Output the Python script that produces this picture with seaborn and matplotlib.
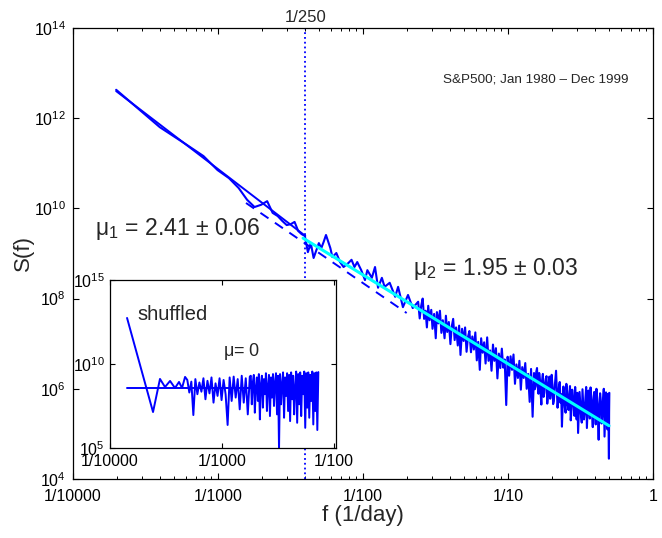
import seaborn as sns
import matplotlib.pyplot as plt
import numpy as np
from matplotlib.ticker import LogLocator, NullFormatter, NullLocator

# S&P500 daily closes, Jan 1980 - Dec 1999 (trading days in the record)
N_DAYS = 5040

# Power spectrum: harmonic k (f = k / N_DAYS) and log10 S(f)
k_main = [1, 2, 3, 4, 5, 6, 7, 8, 9, 10, 11, 12, 13, 14, 15, 16, 17, 18, 19, 20,
          21, 22, 23, 25, 26, 27, 28, 30, 31, 33, 35, 37, 40, 42, 44, 46, 49, 52,
          54, 58, 61, 64, 68, 71, 77, 84, 88, 95, 103, 111,
          121, 124, 127, 130, 133, 136, 139, 142, 145, 149, 152, 156, 160, 163,
          167, 171, 175, 179, 184, 188, 192, 197, 202, 206, 211, 216, 221, 227,
          232, 237, 243, 249, 255, 261, 267, 273, 280, 286, 293, 300, 307, 314,
          322, 329, 337, 345, 353, 362, 370, 379, 388, 397, 406, 416, 426, 436,
          446, 457, 467, 478, 490, 501, 513, 525, 537, 550, 563, 576, 590, 604,
          618, 632, 647, 663, 678, 694, 711, 727, 745,
          762, 771, 780, 789, 799, 808, 818, 827, 837, 846, 856, 866, 877, 887,
          897, 907, 918, 929, 940, 951, 962, 973, 985, 996, 1008, 1020, 1032,
          1044, 1057, 1069, 1081, 1094, 1107, 1120, 1133, 1146, 1160, 1173, 1187,
          1201, 1215, 1229, 1244, 1258, 1273, 1288, 1303, 1318, 1334, 1349, 1365,
          1381, 1397, 1413, 1430, 1447, 1464, 1481, 1499, 1516, 1534, 1552, 1570,
          1588, 1607, 1626, 1645, 1664, 1684, 1704, 1724, 1744, 1764, 1785, 1806,
          1827, 1848, 1870, 1892, 1914, 1937, 1959, 1982, 2005, 2029, 2053, 2077,
          2101, 2126, 2151, 2176, 2201, 2227, 2253, 2280, 2307, 2334, 2361, 2389,
          2417, 2445, 2474, 2503, 2511, 2520]
logS_main = [12.63, 11.80, 11.43, 11.16, 10.85, 10.67, 10.45, 10.19, 10.03, 10.08,
             10.16, 9.90, 9.83, 9.72, 9.63, 9.65, 9.70, 9.50, 9.43, 9.39,
             9.03, 9.23, 8.90, 9.23, 9.12, 9.26, 9.41, 9.12, 8.92, 9.01, 8.81, 8.70,
             8.79, 8.86, 8.70, 8.81, 8.63, 8.41, 8.63, 8.46, 8.70, 8.24, 8.46, 8.26,
             8.35, 8.04, 8.26, 7.81, 8.08, 7.79,
             7.93, 7.56, 7.84, 8.00, 7.55, 7.73, 7.36, 7.84, 7.52, 7.75,
             7.33, 7.66, 7.12, 7.70, 7.45, 7.73, 7.24, 7.52, 7.12, 7.62,
             7.26, 7.48, 6.99, 7.37, 7.55, 7.08, 7.36, 6.96, 7.40, 6.75,
             7.33, 7.06, 7.36, 6.82, 7.15, 7.28, 6.81, 7.16, 6.87, 7.25,
             6.63, 7.04, 6.42, 7.12, 6.80, 7.03, 6.56, 7.14, 6.62, 6.85,
             6.40, 6.98, 6.62, 6.90, 6.23, 6.78, 6.46, 6.89, 6.47, 6.65,
             5.64, 6.71, 6.29, 6.72, 6.42, 6.76, 6.11, 6.54, 6.24, 6.62,
             5.98, 6.48, 6.24, 6.57, 6.00, 6.33, 5.71, 6.44, 5.38,
             6.35, 5.99, 6.06, 6.37, 6.46, 6.05, 5.89, 6.35, 6.20, 5.91, 5.65, 6.19,
             6.33, 5.82, 5.91, 6.10, 6.22, 6.28, 5.67, 5.86, 6.12, 6.27, 5.78, 5.92,
             6.31, 6.10, 5.66, 5.73, 6.02, 6.21, 6.40, 5.99, 5.58, 5.77, 6.06, 6.15,
             5.69, 5.88, 5.16, 5.66, 6.05, 5.84, 5.58, 5.47, 6.11, 5.95, 5.64, 5.53,
             5.87, 6.06, 5.30, 5.54, 5.98, 5.82, 5.61, 5.40, 6.04, 5.73, 5.32, 5.91,
             5.02, 5.49, 5.93, 5.67, 5.41, 5.25, 5.99, 5.68, 5.32, 5.46, 5.80, 6.04,
             5.13, 5.52, 5.96, 5.70, 5.34, 6.03, 5.82, 5.46, 5.15, 5.74, 5.93, 5.52,
             5.21, 6.00, 5.79, 5.43, 4.87, 5.61, 5.90, 5.74, 5.23, 5.42, 5.76, 6.00,
             4.94, 5.43, 5.92, 5.61, 5.10, 5.89, 4.45, 5.47, 5.91]

# Power-law fits (end points): low-frequency fit, its dashed extension, high-frequency fit
fit1_f = [1 / 5040, 1 / 250]
fit1_logS = [12.60, 9.39]
fit1_ext_f = [1 / 641, 1 / 50]
fit1_ext_logS = [10.12, 7.68]
fit2_f = [1 / 259, 1 / 2.01]
fit2_logS = [9.34, 5.18]
f_cross = 1 / 250

# Inset: shuffled series
shuf_logf = [-3.848, -3.616, -3.554, -3.509, -3.464, -3.420, -3.384, -3.357, -3.330,
             -3.310, -3.292, -3.274, -3.256, -3.238, -3.220, -3.202, -3.184, -3.166,
             -3.148, -3.130, -3.112, -3.094, -3.076, -3.058, -3.040, -3.022, -3.004,
             -2.986, -2.968, -2.950, -2.932, -2.914, -2.896, -2.878, -2.860, -2.842,
             -2.824, -2.806, -2.788, -2.770, -2.752,
             -2.743, -2.734, -2.725, -2.716, -2.707, -2.698, -2.689, -2.680, -2.671,
             -2.662, -2.653, -2.644, -2.635, -2.626, -2.617, -2.608, -2.599, -2.590,
             -2.581, -2.572, -2.563, -2.554, -2.545, -2.536, -2.527, -2.518, -2.509,
             -2.500, -2.491, -2.482, -2.473, -2.464, -2.455, -2.446, -2.437, -2.428,
             -2.419, -2.410, -2.401, -2.392, -2.383, -2.374, -2.365, -2.356, -2.347,
             -2.338, -2.329, -2.320, -2.311, -2.302, -2.293, -2.284, -2.275, -2.266,
             -2.257, -2.248, -2.239, -2.230, -2.221, -2.212, -2.203, -2.194, -2.185,
             -2.176, -2.167, -2.158, -2.149, -2.140]
shuf_logS = [12.74, 7.14, 9.11, 8.63, 8.99, 8.57, 8.93, 8.57, 9.23,
             9.05, 8.30, 8.95, 6.96, 9.10, 8.20, 8.90, 8.35, 9.15, 7.90, 9.00, 8.25,
             9.20, 7.70, 8.85, 8.10, 9.15, 7.85, 9.05, 8.20, 6.37, 9.20, 7.80, 9.25,
             8.00, 9.10, 7.30, 9.30, 7.70, 9.15, 7.00, 9.25,
             9.30, 7.60, 8.90, 9.35, 7.10, 8.60, 9.20, 7.80, 9.40, 6.70,
             8.80, 9.30, 7.40, 9.10, 8.20, 9.45, 7.20, 8.70, 9.35, 6.90,
             9.20, 8.00, 9.40, 7.50, 8.90, 9.45, 7.00, 9.30, 4.90, 9.40,
             7.60, 8.80, 9.50, 6.80, 9.20, 8.10, 9.45, 7.20, 9.35, 6.60,
             9.50, 7.90, 9.30, 7.00, 8.60, 9.55, 6.50, 9.40, 7.60, 9.50,
             6.90, 9.30, 8.20, 9.55, 6.20, 9.45, 7.40, 9.50, 6.80, 9.35,
             7.80, 9.55, 6.40, 9.45, 7.20, 9.50, 6.07, 9.52]
flat_logf = [-3.848, -2.140]
flat_logS = [8.55, 8.55]

sns.set_theme(style="ticks")
plt.rcParams['font.family'] = ['Liberation Sans', 'DejaVu Sans']
plt.rcParams['mathtext.fontset'] = 'custom'
plt.rcParams['mathtext.rm'] = 'Liberation Sans'
plt.rcParams['mathtext.it'] = 'Liberation Sans:italic'
plt.rcParams['mathtext.default'] = 'regular'
# MATLAB-like box: inward ticks on all four sides
plt.rcParams.update({
    'xtick.direction': 'in', 'ytick.direction': 'in',
    'xtick.top': True, 'xtick.bottom': True, 'ytick.left': True, 'ytick.right': True,
    'xtick.major.size': 4, 'ytick.major.size': 4,
    'xtick.minor.size': 2.5, 'ytick.minor.size': 2.5,
    'xtick.major.width': 0.8, 'ytick.major.width': 0.8,
    'xtick.minor.width': 0.7, 'ytick.minor.width': 0.7,
    'xtick.color': 'black', 'ytick.color': 'black',
    'axes.edgecolor': 'black', 'axes.linewidth': 0.9,
})

fig = plt.figure(figsize=(6.62, 5.38), dpi=100)
ax = fig.add_axes([0.1103, 0.1097, 0.8761, 0.8383])
ax.set_xscale('log')
ax.set_yscale('log')

ax.axvline(f_cross, color='blue', ls=':', lw=1.3)
sns.lineplot(x=np.array(fit1_ext_f), y=10.0 ** np.array(fit1_ext_logS), ax=ax,
             color='blue', lw=1.4)
ax.lines[-1].set_dashes([5, 4])
sns.lineplot(x=np.array(k_main) / N_DAYS, y=10.0 ** np.array(logS_main), ax=ax,
             color='blue', lw=1.5, sort=False, estimator=None)
sns.lineplot(x=np.array(fit1_f), y=10.0 ** np.array(fit1_logS), ax=ax,
             color='blue', lw=1.4)
sns.lineplot(x=np.array(fit2_f), y=10.0 ** np.array(fit2_logS), ax=ax,
             color='#00ffff', lw=2.2)

ax.set_xlim(1e-4, 1)
ax.set_ylim(1e4, 1e14)
ax.set_xticks([1e-4, 1e-3, 1e-2, 1e-1, 1], ['1/10000', '1/1000', '1/100', '1/10', '1'])
ax.xaxis.set_minor_locator(LogLocator(base=10, subs=range(2, 10), numticks=20))
ax.xaxis.set_minor_formatter(NullFormatter())
ax.set_yticks([1e4, 1e6, 1e8, 1e10, 1e12, 1e14],
              [r'$10^{4}$', r'$10^{6}$', r'$10^{8}$', r'$10^{10}$', r'$10^{12}$', r'$10^{14}$'])
ax.yaxis.set_minor_locator(NullLocator())
ax.tick_params(which='major', labelsize=11.5)
ax.tick_params(axis='x', which='major', pad=7)
ax.tick_params(axis='y', which='major', pad=5)
ax.set_xlabel('f (1/day)', fontsize=16, labelpad=1)
ax.set_ylabel('S(f)', fontsize=16, labelpad=0)

ax.text(f_cross, 1.013, '1/250', transform=ax.get_xaxis_transform(),
        ha='center', va='baseline', fontsize=12)
ax.text(0.638, 0.880, 'S&P500; Jan 1980 \u2013 Dec 1999', transform=ax.transAxes,
        ha='left', va='baseline', fontsize=9.7)
ax.text(0.038, 0.541, r'$\mu_1$ = 2.41 $\pm$ 0.06', transform=ax.transAxes,
        ha='left', va='baseline', fontsize=16.6)
ax.text(0.586, 0.452, r'$\mu_2$ = 1.95 $\pm$ 0.03', transform=ax.transAxes,
        ha='left', va='baseline', fontsize=16.6)

# inset
axin = fig.add_axes([0.1662, 0.1673, 0.3414, 0.3123])
axin.set_xscale('log')
axin.set_yscale('log')
sns.lineplot(x=10.0 ** np.array(flat_logf), y=10.0 ** np.array(flat_logS), ax=axin,
             color='blue', lw=1.4)
sns.lineplot(x=10.0 ** np.array(shuf_logf), y=10.0 ** np.array(shuf_logS), ax=axin,
             color='blue', lw=1.4, sort=False, estimator=None)
axin.set_xlim(1e-4, 10 ** -1.982)
axin.set_ylim(1e5, 1e15)
axin.set_xticks([1e-4, 1e-3, 1e-2], ['1/10000', '1/1000', '1/100'])
axin.set_yticks([1e5, 1e10, 1e15], [r'$10^{5}$', r'$10^{10}$', r'$10^{15}$'])
axin.xaxis.set_minor_locator(NullLocator())
axin.yaxis.set_minor_locator(NullLocator())
axin.tick_params(which='major', length=3.5, labelsize=11.5, pad=4)
axin.text(0.12, 0.76, 'shuffled', transform=axin.transAxes, fontsize=14.5,
          ha='left', va='baseline')
axin.text(0.50, 0.55, r'$\mu$= 0', transform=axin.transAxes, fontsize=13,
          ha='left', va='baseline')

fig.savefig('out.png', dpi=100)
